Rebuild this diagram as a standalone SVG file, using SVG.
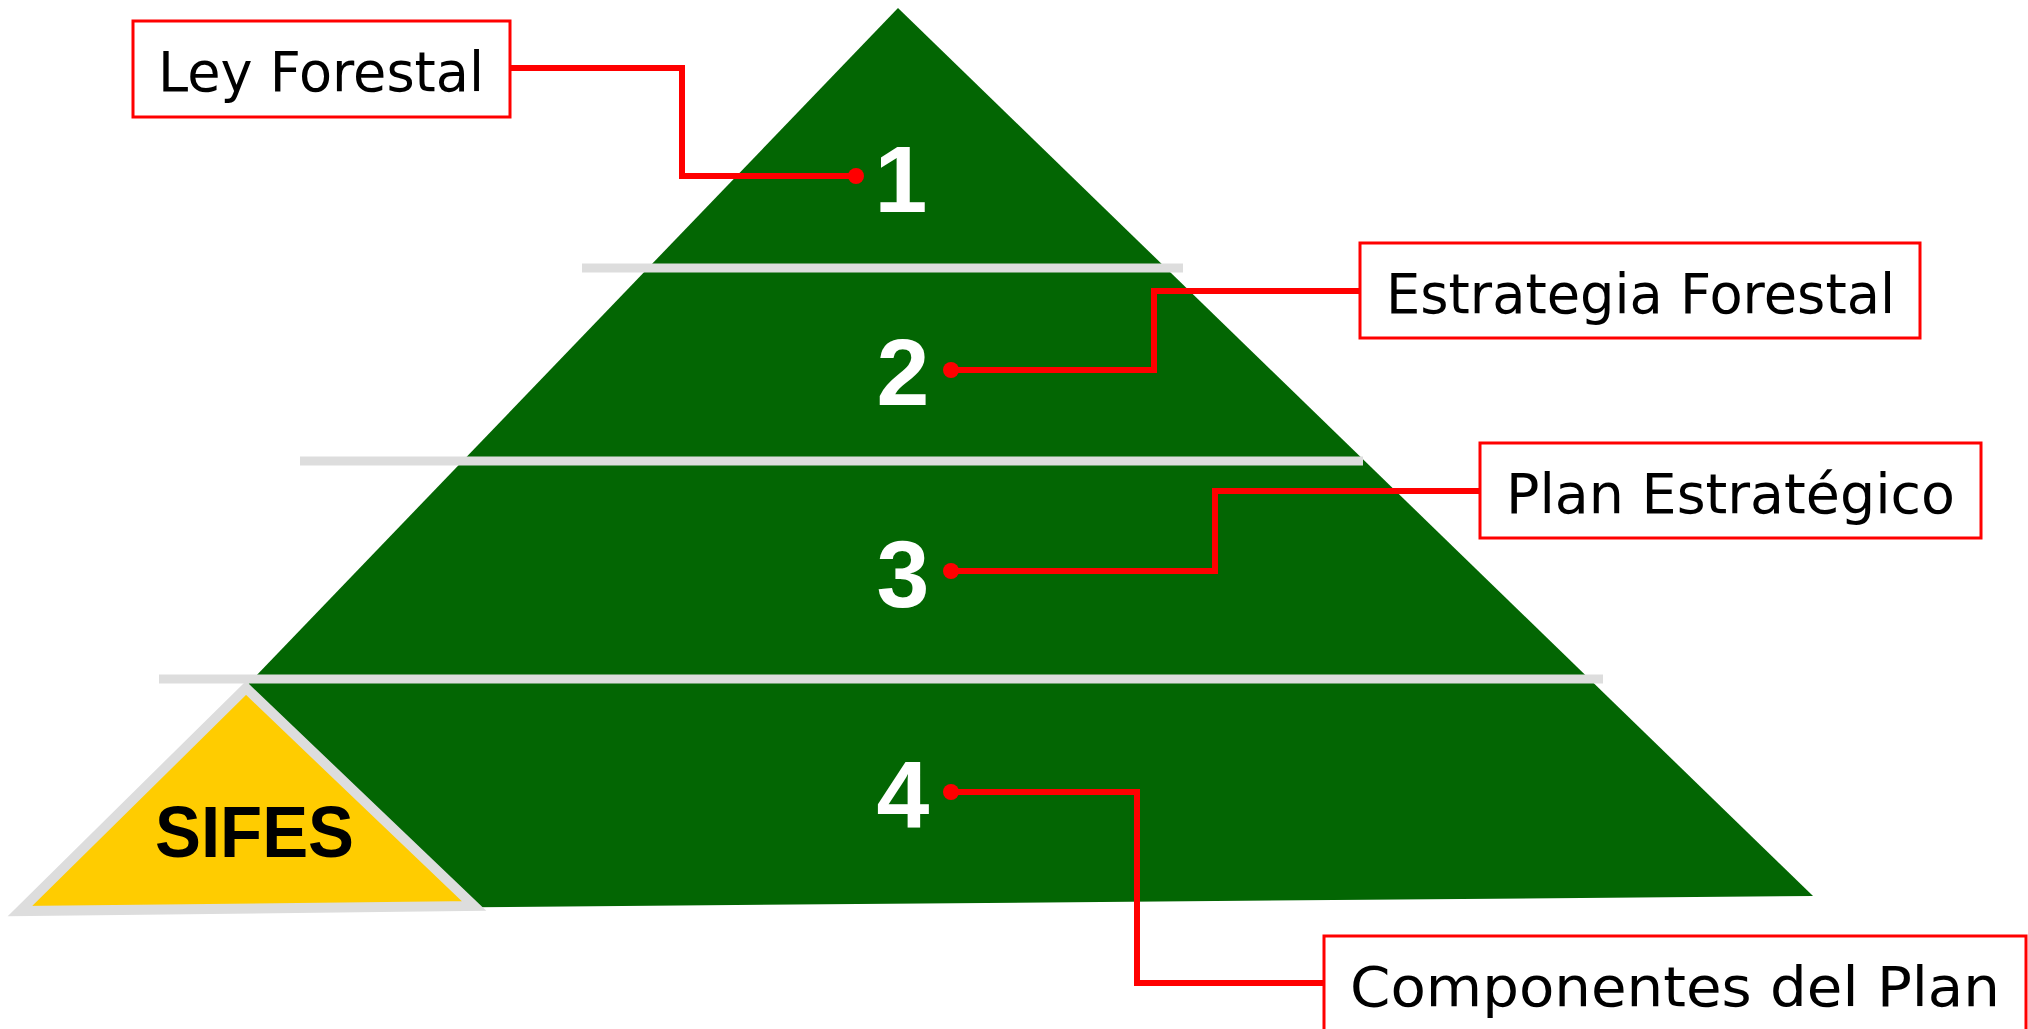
<svg xmlns="http://www.w3.org/2000/svg" width="2028" height="1029" viewBox="0 0 2028 1029">
<style>
.sep{stroke:#DDDDDD;stroke-width:9;fill:none}
.con{stroke:#FF0000;stroke-width:6;fill:none}
.dot{fill:#FF0000}
.box{fill:#FFFFFF;stroke:#FF0000;stroke-width:3}
.lbl{font-family:"DejaVu Sans","Liberation Sans",sans-serif;font-size:56px;fill:#000}
.num{font-family:"Liberation Sans",Arial,sans-serif;font-weight:bold;font-size:95px;fill:#FFFFFF;text-anchor:middle}
</style>
<rect width="2028" height="1029" fill="#FFFFFF"/>
<g id="pyramid">
<polygon points="898,8 1813,896 30,911" fill="#036603"/>
</g>
<g id="separators">
<line class="sep" x1="582" y1="268" x2="1183" y2="268"/>
<line class="sep" x1="300" y1="461" x2="1363" y2="461"/>
<line class="sep" x1="159" y1="679" x2="1603" y2="679"/>
</g>
<g id="sifes">
<polygon points="246,688 20,911 474,906" fill="#FFCC00" stroke="#DDDDDD" stroke-width="10"/>
<text x="155" y="857" font-family="Liberation Sans, Arial, sans-serif" font-weight="bold" font-size="73" fill="#000" textLength="199" lengthAdjust="spacingAndGlyphs">SIFES</text>
</g>
<g id="level1"><text class="num" x="901" y="212">1</text></g>
<g id="level2"><text class="num" x="903" y="405">2</text></g>
<g id="level3"><text class="num" x="903" y="607">3</text></g>
<g id="level4"><text class="num" x="903" y="827">4</text></g>
<g id="connectors">
<polyline class="con" points="510,68 682,68 682,176 856,176"/>
<polyline class="con" points="1360,291 1154,291 1154,370 951,370"/>
<polyline class="con" points="1480,491 1215,491 1215,571 951,571"/>
<polyline class="con" points="951,792 1137,792 1137,983 1324,983"/>
<circle class="dot" cx="856" cy="176" r="8"/>
<circle class="dot" cx="951" cy="370" r="8"/>
<circle class="dot" cx="951" cy="571" r="8"/>
<circle class="dot" cx="951" cy="792" r="8"/>
</g>
<g id="ley-forestal">
<rect class="box" x="133" y="21" width="377" height="96"/>
<text class="lbl" x="158" y="91" textLength="326" lengthAdjust="spacingAndGlyphs">Ley Forestal</text>
</g>
<g id="estrategia-forestal">
<rect class="box" x="1360" y="243" width="560" height="95"/>
<text class="lbl" x="1386" y="313" textLength="509" lengthAdjust="spacingAndGlyphs">Estrategia Forestal</text>
</g>
<g id="plan-estrategico">
<rect class="box" x="1480" y="443" width="501" height="95"/>
<text class="lbl" x="1506" y="513" textLength="449" lengthAdjust="spacingAndGlyphs">Plan Estratégico</text>
</g>
<g id="componentes-del-plan">
<rect class="box" x="1324" y="936" width="702" height="110"/>
<text class="lbl" x="1350" y="1006" textLength="650" lengthAdjust="spacingAndGlyphs">Componentes del Plan</text>
</g>
</svg>
